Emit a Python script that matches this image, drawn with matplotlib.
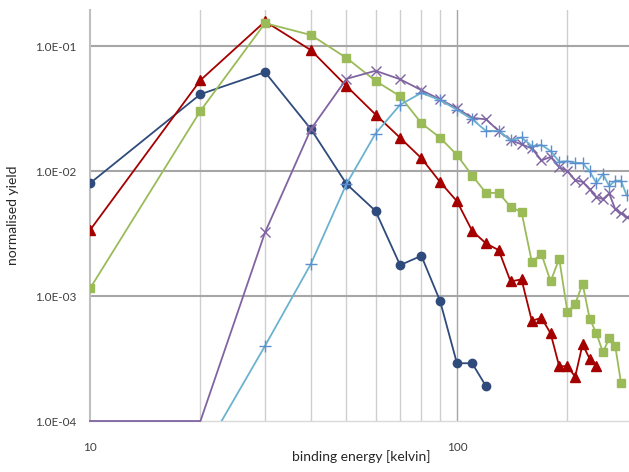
import numpy as np
import matplotlib
matplotlib.use("Agg")
import matplotlib.pyplot as plt
from matplotlib.ticker import FixedLocator, FuncFormatter, NullFormatter

plt.rcParams['font.family'] = ['Lato', 'DejaVu Sans']

energy = [10, 20, 30, 40, 50, 60, 70, 80, 90, 100, 110, 120, 130, 140, 150,
          160, 170, 180, 190, 200, 210, 220, 230, 240, 250, 260, 270, 280, 290]

nan = np.nan
s_blue = [0.0080, 0.0413, 0.062, 0.0217, 0.0079, 0.0048, 0.00177, 0.0021, 0.00091,
          0.00029, 0.00029, 0.00019] + [nan] * 17
s_red = [0.00337, 0.0535, 0.158, 0.093, 0.048, 0.0284, 0.0185, 0.0127, 0.00817,
         0.00575, 0.00333, 0.00264, 0.00233, 0.00131, 0.00136, 0.000634, 0.00067,
         0.000503, 0.000274, 0.000275, 0.000226, 0.000411, 0.000315, 0.000277] + [nan] * 5
s_green = [0.00115, 0.0304, 0.153, 0.123, 0.0806, 0.0528, 0.0398, 0.0242, 0.0185,
           0.0135, 0.00923, 0.0067, 0.0067, 0.00518, 0.0047, 0.00188, 0.00217,
           0.00131, 0.00199, 0.00075, 0.00086, 0.00126, 0.00066, 0.000502,
           0.000355, 0.000459, 0.0004, 0.000202, nan]
s_purple = [0.0001, 0.0001, 0.00324, 0.0217, 0.0548, 0.0636, 0.0544, 0.0445, 0.0375,
            0.0319, 0.0267, 0.026, 0.021, 0.0177, 0.0164, 0.0152, 0.0122, 0.013,
            0.0108, 0.0100, 0.00847, 0.0082, 0.00714, 0.00622, 0.00597, 0.00663,
            0.00497, 0.00459, 0.0043]
s_light = [nan, 0.000051, 0.00040, 0.00181, 0.0079, 0.020, 0.034, 0.0423, 0.037,
           0.031, 0.026, 0.021, 0.021, 0.0177, 0.0186, 0.0159, 0.0162, 0.0145,
           0.0119, 0.0120, 0.0117, 0.0116, 0.0100, 0.0080, 0.0095, 0.0076,
           0.0084, 0.0084, 0.0064]

fig = plt.figure(figsize=(6.29, 4.72), dpi=100)
ax = fig.add_axes([90/629, 51/472, 542/629, 411/472])
ax.set_xscale('log')
ax.set_yscale('log')
ax.set_xlim(10, 300)
ax.set_ylim(1e-4, 0.195)

# gridlines
for xv in [20, 30, 40, 50, 60, 70, 80, 90, 200, 300]:
    ax.axvline(xv, color='#cfcfcf', lw=1.0, zorder=0)
ax.axvline(100, color='#a6a6a6', lw=1.0, zorder=0)
for yv in [1e-3, 1e-2, 1e-1]:
    ax.axhline(yv, color='#a6a6a6', lw=1.5, zorder=0)

for sp in ['top', 'right']:
    ax.spines[sp].set_visible(False)
ax.spines['left'].set_color('#bfbfbf')
ax.spines['left'].set_linewidth(1.5)
ax.spines['bottom'].set_color('#d9d9d9')
ax.spines['bottom'].set_linewidth(1.0)

ax.xaxis.set_major_locator(FixedLocator([10, 100]))
ax.xaxis.set_minor_formatter(NullFormatter())
ax.xaxis.set_major_formatter(FuncFormatter(lambda v, p: f"{v:g}"))
ax.yaxis.set_major_locator(FixedLocator([1e-4, 1e-3, 1e-2, 1e-1]))
ax.yaxis.set_minor_locator(FixedLocator([]))
ax.xaxis.set_minor_locator(FixedLocator([]))
ax.yaxis.set_major_formatter(FuncFormatter(lambda v, p: f"{v:.1E}"))
ax.tick_params(axis='both', length=0, labelsize=8.5, colors='#404040', pad=10)
ax.tick_params(axis='x', pad=15)

lw = 1.3
ax.plot(energy, s_blue, color='#2F4B7C', lw=lw, marker='o', ms=6, zorder=3)
ax.plot(energy, s_red, color='#A50000', lw=lw, marker='^', ms=7, zorder=4)
ax.plot(energy, s_green, color='#9BBB59', lw=lw, marker='s', ms=6, zorder=5)
ax.plot(energy, s_purple, color='#8064A2', lw=lw, marker='x', ms=7, mew=1.0,
        markevery=list(range(2, len(energy))), zorder=6, clip_on=False)
ax.plot(energy, s_light, color='#6CB2CF', lw=lw, marker='+', ms=8, mew=1.0,
        mec='#5B8FD0', zorder=7)

ax.set_xlabel('binding energy [kelvin]', fontsize=10, color='#262626', labelpad=-2)
ax.set_ylabel('normalised yield', fontsize=10, color='#262626', labelpad=11)

fig.savefig('out.png', dpi=100)
